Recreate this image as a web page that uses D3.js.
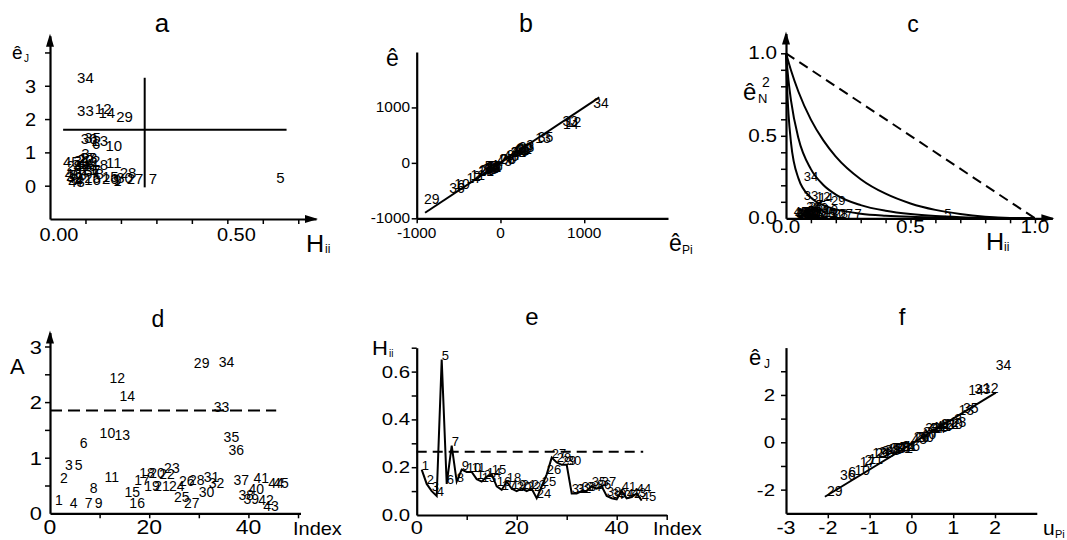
<!DOCTYPE html>
<html>
<head>
<meta charset="utf-8">
<script src="https://cdn.jsdelivr.net/npm/d3@7"></script>
<style>
  body { margin: 0; background: #fff; }
  svg { display: block; font-family: "Liberation Sans", Arial, Helvetica, sans-serif; }
</style>
</head>
<body>
<svg id="chart" width="1067" height="540"></svg>
<script>
// observation numbers (the labels drawn at every point)
const obs = [1,2,3,4,5,6,7,8,9,10,11,12,13,14,15,16,17,18,19,20,21,22,23,24,25,26,27,28,29,30,
  31,32,33,34,35,36,37,38,39,40,41,42,43,44,45];

// diagonal of the hat matrix H_ii (panel e, x of panels a and c)
const leverage = [0.19,0.13,0.10,0.08,0.65,0.13,0.29,0.14,0.19,0.18,
  0.18,0.15,0.14,0.16,0.17,0.12,0.105,0.14,0.11,0.10,
  0.11,0.10,0.11,0.07,0.12,0.17,0.24,0.22,0.21,0.21,
  0.09,0.09,0.10,0.10,0.12,0.11,0.12,0.08,0.07,0.065,
  0.10,0.07,0.075,0.09,0.06];

// jackknife residuals e_J (signed; panel a shows them in absolute value)
const jackResid = [-0.15,-0.75,0.96,-0.16,-0.24,-1.25,-0.20,-0.37,-0.18,-1.19,
  -0.70,2.30,1.35,2.20,-0.27,-0.17,-0.85,0.64,-0.47,0.78,
  -0.47,0.77,0.84,0.60,-0.23,0.20,0.20,-0.40,-2.08,0.24,
  0.75,0.59,2.26,3.25,1.44,-1.40,0.45,-0.34,-0.26,0.35,
  0.67,-0.23,0.12,0.59,0.73];

// classical residuals and predicted residuals (panel b)
const resid = [-47,-245,319,-54,-50,-408,-59,-120,-57,-377,
  -222,742,438,706,-86,-56,-281,208,-155,259,
  -150,256,277,202,-76,64,61,-124,-647,75,
  250,197,750,1080,473,-462,148,-114,-88,118,
  222,-78,40,197,248];
const predResid = [-58,-282,354,-59,-142,-469,-83,-140,-70,-460,
  -271,873,509,840,-104,-64,-314,242,-174,288,
  -169,284,311,217,-86,77,80,-159,-819,95,
  275,216,834,1200,537,-519,168,-124,-94,127,
  247,-83,44,217,263];

// normalised squared residuals (panel c)
const normResidSq = [0.0004,0.0117,0.0198,0.0006,0.0005,0.0324,0.0007,0.0028,0.0006,0.0277,
  0.0096,0.1071,0.0373,0.0970,0.0014,0.0006,0.0154,0.0084,0.0047,0.0131,
  0.0044,0.0128,0.0149,0.0079,0.0011,0.0008,0.0007,0.0030,0.0814,0.0011,
  0.0122,0.0076,0.1094,0.2269,0.0435,0.0415,0.0043,0.0025,0.0015,0.0027,
  0.0096,0.0012,0.0003,0.0076,0.0120];

// influence measure A (panel d)
const influenceA = [0.15,0.54,0.78,0.09,0.78,1.17,0.09,0.36,0.09,1.35,
  0.57,2.35,1.32,2.02,0.30,0.09,0.51,0.63,0.40,0.63,
  0.40,0.62,0.72,0.40,0.21,0.49,0.09,0.51,2.61,0.30,
  0.57,0.45,1.83,2.63,1.29,1.05,0.51,0.24,0.17,0.35,
  0.54,0.15,0.05,0.45,0.45];

// normal quantiles u_Pi (panel f)
const normQuant = [-0.055,-1.125,1.027,-0.109,-0.451,-1.512,-0.276,-0.709,-0.220,-1.360,
  -1.027,1.711,1.125,1.360,-0.575,-0.164,-1.234,0.512,-0.939,0.857,
  -0.857,0.781,0.939,0.451,-0.391,0.055,0.109,-0.781,-2.019,0.164,
  0.709,0.333,1.512,2.019,1.234,-1.711,0.276,-0.641,-0.512,0.220,
  0.575,-0.333,0.000,0.391,0.641];

// reference lines
const critA = { h: 0.267, hFrom: -0.05, hTo: 3.24, e: 1.68, eFrom: 0.037, eTo: 0.667 };
const diagB = [[-900,-900],[1180,1180]];
const diagC = [[0,1],[1,0]];
const contoursC = [
  [[0,1],[0.02,0.897],[0.05,0.767],[0.1,0.598],[0.15,0.472],[0.2,0.374],[0.3,0.237],[0.4,0.149],[0.5,0.09],[0.6,0.051],[0.7,0.026],[0.8,0.010],[0.9,0.002],[1,0]],
  [[0,1],[0.01,0.836],[0.02,0.715],[0.05,0.485],[0.1,0.298],[0.15,0.202],[0.2,0.144],[0.3,0.080],[0.4,0.046],[0.5,0.026],[0.6,0.014],[0.7,0.007],[0.8,0.003],[1,0]],
  [[0,1],[0.005,0.778],[0.01,0.634],[0.02,0.459],[0.05,0.242],[0.1,0.125],[0.15,0.079],[0.2,0.054],[0.3,0.028],[0.4,0.016],[0.5,0.009],[0.6,0.005],[0.8,0.001],[1,0]]
];
const limitD = { a: 1.85, to: 45.6 };
const limitE = { h: 0.265, to: 45.3 };
const lineF = [[-2.07,-2.3],[2.02,2.1]];

const svg = d3.select("#chart");

function txt(x, y, s, size, opt = {}) {
  const t = svg.append("text")
    .attr("transform", `translate(${x},${y}) scale(${opt.sx || 1},1)`)
    .attr("font-size", size)
    .attr("text-anchor", opt.anchor || "start")
    .attr("fill", "#000")
    .text(s);
  if (opt.dy) t.attr("dy", opt.dy);
  return t;
}

function arrow(x, y, dir) {
  let pts = dir === "right"
    ? [[x, y], [x - 13, y - 4], [x - 13, y + 4]]
    : [[x, y], [x - 4, y + 13], [x + 4, y + 13]];
  svg.append("path").attr("d", d3.line()(pts) + "Z").attr("fill", "#000");
}

function frame(x, y, x0, y0, xTicks, yTicks) {
  const gx = svg.append("g").attr("transform", `translate(0,${y(y0)})`)
    .call(d3.axisBottom(x).tickValues(xTicks).tickSize(5).tickSizeOuter(0).tickFormat(""));
  const gy = svg.append("g").attr("transform", `translate(${x(x0)},0)`)
    .call(d3.axisLeft(y).tickValues(yTicks).tickSize(5).tickSizeOuter(0).tickFormat(""));
  [gx, gy].forEach(g => {
    g.select(".domain").attr("stroke-width", 2.2);
    g.selectAll(".tick line").attr("stroke-width", 1.5);
  });
}

function polyline(pts, x, y, dash) {
  const p = svg.append("path")
    .attr("d", d3.line().x(d => x(d[0])).y(d => y(d[1]))(pts))
    .attr("fill", "none").attr("stroke", "#000").attr("stroke-width", 2);
  if (dash) p.attr("stroke-dasharray", dash);
  return p;
}

function labels(xs, ys, x, y, size, opt) {
  obs.forEach((n, i) => txt(x(xs[i]), y(ys[i]), n, size, opt));
}

// ---------- a : |e_J| vs H_ii ----------
{
  const x = d3.scaleLinear().domain([0, 0.75]).range([50, 316]);
  const y = d3.scaleLinear().domain([-1, 4.5]).range([219, 35.8]);
  frame(x, y, 0, -1, [0.1,0.2,0.3,0.4,0.5,0.6,0.7], [0,1,2,3,4]);
  arrow(x(0.75) + 2, y(-1), "right");
  arrow(x(0), y(4.5) - 2, "up");
  polyline([[critA.eFrom, critA.e], [critA.eTo, critA.e]], x, y);
  polyline([[critA.h, critA.hFrom], [critA.h, critA.hTo]], x, y);
  labels(leverage, jackResid.map(Math.abs), x, y, 15, { anchor: "middle", dy: "0.35em" });
  [[0, "0.00"], [0.5, "0.50"]].forEach(([v, s]) => txt(x(v) + 9, 241, s, 19, { anchor: "middle", sx: 1.05 }));
  [0,1,2,3].forEach(v => txt(36, y(v) + 7, v, 19, { anchor: "end", sx: 1.05 }));
  txt(162, 32, "a", 26, { anchor: "middle" });
  txt(12, 59, "ê", 19);
  txt(24, 62, "J", 10);
  txt(306, 252, "H", 24, { sx: 1.05 });
  txt(325, 253, "ii", 12);
}

// ---------- b : e vs e_Pi ----------
{
  const x = d3.scaleLinear().domain([-1000, 2000]).range([416.7, 668]);
  const y = d3.scaleLinear().domain([-1000, 2000]).range([218.3, 52]);
  frame(x, y, -1000, -1000, [-1000, 0, 1000], [-1000, 0, 1000]);
  polyline(diagB, x, y);
  labels(predResid, resid, x, y, 14, { anchor: "middle", dy: "0.35em" });
  [-1000, 0, 1000].forEach(v => txt(x(v), 238, v, 14, { anchor: "middle", sx: 1.1 }));
  [-1000, 0, 1000].forEach(v => txt(410, y(v) + 5, v, 14, { anchor: "end", sx: 1.1 }));
  txt(526, 32, "b", 25, { anchor: "middle" });
  txt(386, 66, "ê", 23);
  txt(669, 251, "ê", 23);
  txt(682, 254, "Pi", 12);
}

// ---------- c : e_N^2 vs H_ii (L-R plot) ----------
{
  const x = d3.scaleLinear().domain([0, 1.07]).range([786, 1052.4]);
  const y = d3.scaleLinear().domain([0, 1.12]).range([218.3, 33.5]);
  frame(x, y, 0, 0, d3.range(1, 11).map(i => i / 10), d3.range(1, 11).map(i => i / 10));
  arrow(x(1.07) + 2, y(0), "right");
  arrow(x(0), y(1.12) - 2, "up");
  polyline(diagC, x, y, "10,6");
  contoursC.forEach(c => svg.append("path")
    .attr("d", d3.line().x(d => x(d[0])).y(d => y(d[1])).curve(d3.curveMonotoneX)(c))
    .attr("fill", "none").attr("stroke", "#000").attr("stroke-width", 2));
  labels(leverage, normResidSq, x, y, 13, { anchor: "middle" });
  [[0, "0.0"], [0.5, "0.5"], [1, "1.0"]].forEach(([v, s]) => txt(x(v), 233, s, 18, { anchor: "middle", sx: 1.15 }));
  [[0, "0.0"], [0.5, "0.5"], [1, "1.0"]].forEach(([v, s]) => txt(777, y(v) + 6, s, 18, { anchor: "end", sx: 1.15 }));
  txt(913, 32, "c", 23, { anchor: "middle" });
  txt(743, 100, "ê", 24);
  txt(758, 103, "N", 13);
  txt(762, 87, "2", 14);
  txt(986, 250, "H", 24, { sx: 1.05 });
  txt(1004, 251, "ii", 12);
}

// ---------- d : A vs index ----------
{
  const x = d3.scaleLinear().domain([0, 50.5]).range([50, 300.5]);
  const y = d3.scaleLinear().domain([0, 3.25]).range([513.3, 332.6]);
  frame(x, y, 0, 0, [10,20,30,40,50], [0.5,1,1.5,2,2.5,3]);
  arrow(x(0), y(3.25) - 2, "up");
  polyline([[0, limitD.a], [limitD.to, limitD.a]], x, y, "12,6");
  labels(obs, influenceA, x, y, 14, {});
  [0, 20, 40].forEach(v => txt(x(v), 534, v, 20, { anchor: "middle", sx: 1.15 }));
  [0, 1, 2, 3].forEach(v => txt(42, y(v) + 7, v, 19, { anchor: "end", sx: 1.15 }));
  txt(158, 327, "d", 23, { anchor: "middle" });
  txt(10, 374, "A", 22);
  txt(293, 535, "Index", 19, { sx: 1.05 });
}

// ---------- e : H_ii vs index ----------
{
  const x = d3.scaleLinear().domain([0, 50]).range([416.7, 666.7]);
  const y = d3.scaleLinear().domain([0, 0.7]).range([515, 347.7]);
  frame(x, y, 0, 0, [10,20,30,40,50], [0.1,0.2,0.3,0.4,0.5,0.6,0.7]);
  polyline([[0, limitE.h], [limitE.to, limitE.h]], x, y, "10,6");
  polyline(obs.map((n, i) => [n, leverage[i]]), x, y);
  labels(obs, leverage, x, y, 13, {});
  [0, 20, 40].forEach(v => txt(x(v), 534, v, 19, { anchor: "middle", sx: 1.15 }));
  [[0, "0.0"], [0.2, "0.2"], [0.4, "0.4"], [0.6, "0.6"]].forEach(([v, s]) => txt(410, y(v) + 6, s, 17, { anchor: "end", sx: 1.2 }));
  txt(532, 325, "e", 24, { anchor: "middle" });
  txt(372, 355, "H", 21, { sx: 1.05 });
  txt(389, 357, "ii", 10);
  txt(653, 535, "Index", 19, { sx: 1.05 });
}

// ---------- f : e_J vs normal quantiles ----------
{
  const x = d3.scaleLinear().domain([-3, 3]).range([786, 1036.8]);
  const y = d3.scaleLinear().domain([-3, 4]).range([513.3, 347.6]);
  frame(x, y, -3, -3, [-2,-1,0,1,2], [-2,-1,0,1,2,3]);
  polyline(lineF, x, y);
  labels(normQuant, jackResid, x, y, 14, { dy: "0.35em" });
  [-3, -2, -1, 0, 1, 2].forEach(v => txt(x(v), 534, v, 18, { anchor: "middle", sx: 1.2 }));
  [-2, 0, 2].forEach(v => txt(775, y(v) + 6, v, 17, { anchor: "end", sx: 1.2 }));
  txt(902, 325, "f", 24, { anchor: "middle" });
  txt(749, 365, "ê", 22);
  txt(764, 368, "J", 12);
  txt(1043, 535, "u", 21);
  txt(1055, 538, "Pi", 11);
}
</script>
</body>
</html>
